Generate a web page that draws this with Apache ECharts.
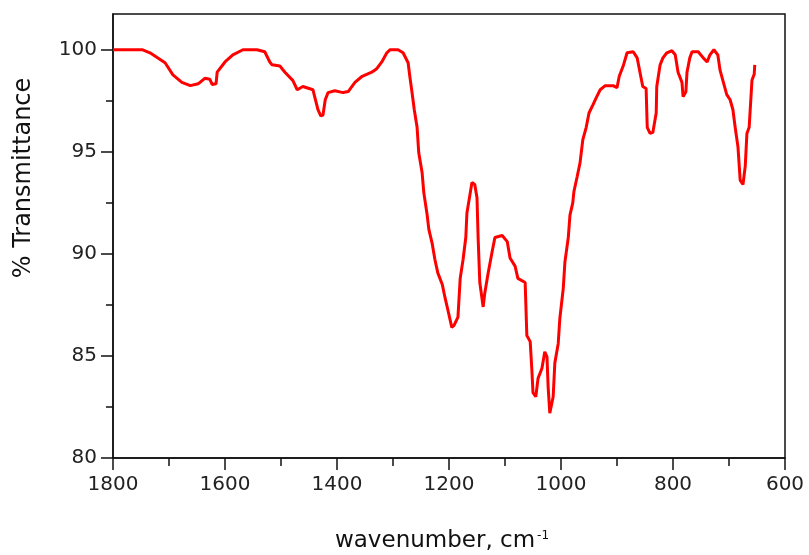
<!DOCTYPE html>
<html>
<head>
<meta charset="utf-8">
<script src="https://cdn.jsdelivr.net/npm/echarts@6/dist/echarts.min.js"></script>
<style>html,body{margin:0;padding:0;background:#fff}#c{width:809px;height:555px}</style>
</head>
<body>
<div id="c"></div>
<script>
var wavenumbers = [1800,1748,1734,1707,1693,1677,1662,1648,1636,1627,1623,1616,1614,1600,1586,1568,1543,1529,1520,1516,1502,1493,1479,1471,1461,1443,1439,1434,1429,1425,1421,1416,1404,1389,1380,1368,1355,1338,1329,1320,1311,1305,1291,1282,1273,1270,1266,1262,1257,1254,1248,1245,1239,1236,1230,1225,1220,1212,1207,1202,1195,1191,1184,1180,1175,1170,1168,1162,1159,1154,1150,1148,1145,1139,1136,1130,1123,1118,1105,1096,1091,1082,1077,1064,1061,1055,1052,1050,1045,1041,1034,1029,1025,1023,1020,1014,1011,1005,1002,996,993,987,984,979,977,971,966,961,955,950,943,937,930,921,907,900,896,889,882,871,864,859,854,848,846,841,836,830,829,823,818,811,802,796,791,784,782,777,775,770,766,755,746,739,734,727,720,716,711,704,698,693,689,684,680,675,671,668,664,659,655,654];
var transmittance = [100,100,99.85,99.36,98.77,98.4,98.24,98.33,98.6,98.55,98.3,98.33,98.9,99.4,99.75,100,100,99.9,99.4,99.26,99.2,98.9,98.5,98.04,98.2,98.04,97.6,97.06,96.76,96.8,97.55,97.9,97.99,97.9,97.95,98.4,98.7,98.9,99.07,99.4,99.85,100,100,99.85,99.36,98.7,97.9,97.06,96.2,94.95,93.97,93.0,91.9,91.2,90.5,89.7,89.07,88.5,87.84,87.25,86.4,86.5,86.9,88.8,89.7,90.8,92.0,93.0,93.5,93.4,92.75,90.8,88.6,87.4,88.1,89.07,90.1,90.8,90.9,90.6,89.8,89.4,88.8,88.6,86.0,85.7,84.3,83.2,83.0,83.9,84.4,85.2,84.95,83.5,82.2,83.0,84.66,85.6,86.86,88.3,89.6,90.8,91.9,92.5,93.04,93.8,94.46,95.6,96.2,96.9,97.3,97.65,98.04,98.24,98.24,98.14,98.7,99.2,99.85,99.9,99.6,98.9,98.2,98.1,96.2,95.9,95.95,96.9,98.2,99.26,99.6,99.85,99.95,99.75,98.9,98.4,97.7,97.94,98.9,99.6,99.9,99.9,99.6,99.4,99.75,100,99.75,99.0,98.5,97.8,97.55,97.06,96.2,95.24,93.6,93.4,94.3,95.9,96.2,98.5,98.8,99.26];
var yMajorTicks = [80, 85, 90, 95, 100];
var yMinorTicks = [82.5, 87.5, 92.5, 97.5];
var xTitle = 'wavenumber, cm';
var xTitleSup = '-1';
var yTitle = '% Transmittance';

var data = wavenumbers.map(function (w, i) { return [w, transmittance[i]]; });
var FONT = '"DejaVu Sans", sans-serif';
var AX = '#111';
var chart = echarts.init(document.getElementById('c'), null, {renderer: 'canvas'});
chart.setOption({
  animation: false,
  backgroundColor: '#fff',
  grid: {left: 113, right: 24, top: 14, bottom: 97, show: true, borderColor: AX, borderWidth: 1.5, containLabel: false},
  xAxis: {
    type: 'value', inverse: true, min: 600, max: 1800, interval: 200,
    axisLine: {show: true, lineStyle: {color: AX, width: 1.5}},
    axisTick: {show: true, length: 12, lineStyle: {color: AX, width: 1.5}},
    minorTick: {show: true, splitNumber: 2, length: 8, lineStyle: {color: AX, width: 1.5}},
    splitLine: {show: false},
    axisLabel: {margin: 17, fontFamily: FONT, fontSize: 20, color: '#222', formatter: function (v) { return String(v); }}
  },
  yAxis: [{
    type: 'value', min: 80, max: 101.75,
    axisLine: {show: true, lineStyle: {color: AX, width: 1.5}},
    axisTick: {show: true, length: 12, customValues: yMajorTicks, lineStyle: {color: AX, width: 1.5}},
    splitLine: {show: false},
    axisLabel: {margin: 16, fontFamily: FONT, fontSize: 20, color: '#222', customValues: yMajorTicks,
      formatter: function (v) { return String(v); }}
  }, {
    type: 'value', min: 80, max: 101.75, position: 'left',
    axisLine: {show: false},
    axisTick: {show: true, length: 7, customValues: yMinorTicks, lineStyle: {color: AX, width: 1.5}},
    splitLine: {show: false},
    axisLabel: {show: false}
  }],
  graphic: [
    {type: 'text', x: 24, y: 178, rotation: Math.PI / 2,
      style: {text: yTitle, font: '24px ' + FONT, fill: '#111', align: 'center', verticalAlign: 'middle'}},
    {type: 'text', x: 442, y: 541,
      style: {text: '{a|' + xTitle + '}{s|' + xTitleSup + '}', align: 'center', verticalAlign: 'middle',
        rich: {a: {fontFamily: FONT, fontSize: 23, fill: '#111', color: '#111'},
               s: {fontFamily: FONT, fontSize: 12, fill: '#111', color: '#111', verticalAlign: 'top', padding: [0, 0, 10, 2]}}}}
  ],
  series: [{
    type: 'line', data: data, showSymbol: false, symbol: 'none',
    lineStyle: {color: '#ff0000', width: 3}, itemStyle: {color: '#ff0000'}
  }]
});
</script>
</body>
</html>
